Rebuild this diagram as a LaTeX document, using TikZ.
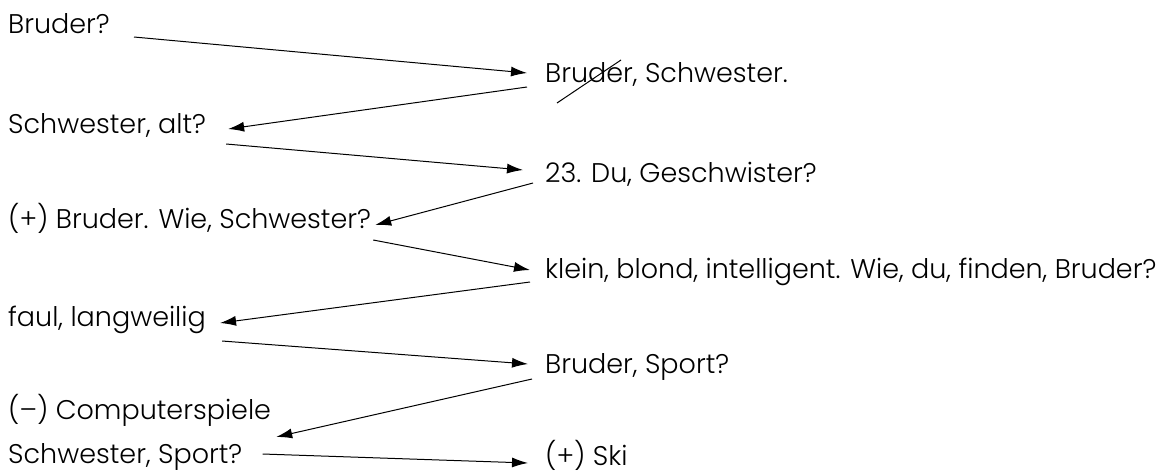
\documentclass[tikz,border=0pt]{standalone}
\usepackage{fontspec}
\setmainfont{Poppins}[UprightFont=* Light]
\usepackage{tikz}
\usetikzlibrary{arrows.meta}

\begin{document}
\begin{tikzpicture}[x=1pt, y=-1pt,
  txt/.style={anchor=base west, inner sep=0pt, font=\fontsize{27}{31}\selectfont},
  arr/.style={-{Latex[length=16pt, width=10pt]}, line width=1pt}]
\useasboundingbox (0,0) rectangle (1159,475);
\node[txt] (q1) at (8,33) {Bruder?};
\node[txt] (a1) at (545,82) {Bruder, Schwester.};
\node[txt] (q2) at (8,133) {Schwester, alt?};
\node[txt] (a2) at (545,182) {23. Du, Geschwister?};
\node[txt] (q3) at (8,228) {(+) Bruder. Wie, Schwester?};
\node[txt] (a3) at (545,278) {klein, blond, intelligent. Wie, du, finden, Bruder?};
\node[txt] (q4) at (8,326) {faul, langweilig};
\node[txt] (a4) at (545,373) {Bruder, Sport?};
\node[txt] (q5) at (8,419) {(–) Computerspiele};
\node[txt] (q6) at (8,463) {Schwester, Sport?};
\node[txt] (a5) at (545,465) {(+) Ski};
% crossed out
\draw[line width=1pt] ([shift={(12,21)}]a1.base west) -- ([shift={(76,-22)}]a1.base west);
\draw[arr] ([shift={(24,4)}]q1.base east) -- ([shift={(-18,-9)}]a1.base west);
\draw[arr] ([shift={(-18,5)}]a1.base west) -- ([shift={(22,-4)}]q2.base east);
\draw[arr] ([shift={(20,11)}]q2.base east) -- ([shift={(-22,-12)}]a2.base west);
\draw[arr] ([shift={(-12,1)}]a2.base west) -- ([shift={(4,-3)}]q3.base east);
\draw[arr] ([shift={(2,12)}]q3.base east) -- ([shift={(-15,-8)}]a3.base west);
\draw[arr] ([shift={(-15,4)}]a3.base west) -- ([shift={(14,-3)}]q4.base east);
\draw[arr] ([shift={(16,15)}]q4.base east) -- ([shift={(-17,-9)}]a4.base west);
\draw[arr] ([shift={(-13,6)}]a4.base west) -- ([shift={(5,18)}]q5.base east);
\draw[arr] ([shift={(20,-9)}]q6.base east) -- ([shift={(-17,-2)}]a5.base west);
\end{tikzpicture}
\end{document}
